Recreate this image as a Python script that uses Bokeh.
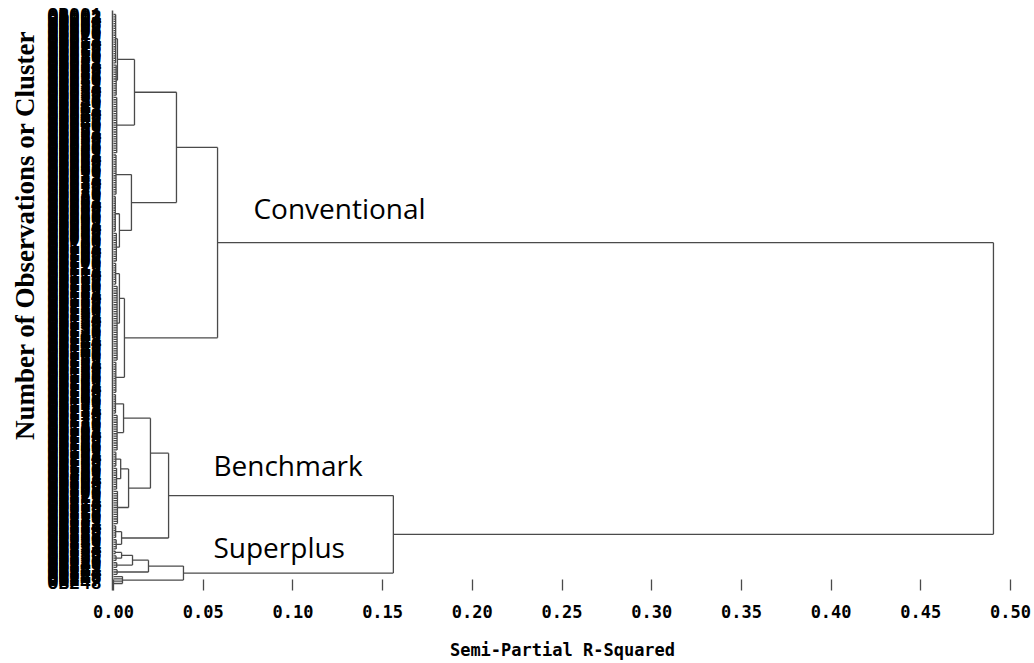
from bokeh.plotting import figure
from bokeh.models import Range1d, FixedTicker, Title, Label, ColumnDataSource
from bokeh.embed import file_html
from bokeh.resources import INLINE

# ---------------- data ----------------
# leaf groups (runs of observations that fuse at very small R-squared)
group_names = ["A1a", "A1b", "A2", "B1", "B2a", "B2b", "C1a", "C1b", "C2",
               "BA1a", "BA1b", "BA2a1", "BA2a2", "BA2b", "BB1", "BB2",
               "S1a", "S1b", "S2b", "S3b", "S4b"]
group_sizes = [22, 14, 25, 18, 16, 13, 10, 33, 14,
               9, 16, 7, 10, 15, 6, 5,
               2, 3, 3, 3, 4]
group_heights = [0.0012, 0.0015, 0.0018, 0.0014, 0.0010, 0.0016, 0.0012, 0.0020, 0.0013,
                 0.0011, 0.0020, 0.0013, 0.0017, 0.0022, 0.0012, 0.0015,
                 0.0010, 0.0014, 0.0018, 0.0020, 0.0050]

# cluster fusions: name, left child, right child, semi-partial R-squared
merge_names = ["A1", "A", "B2", "B", "AB", "C1", "C", "Conventional",
               "BA1", "BA2a", "BA2", "BA", "BB", "Benchmark",
               "S1", "S2", "S3", "Superplus", "BS", "Root"]
merge_left = ["A1a", "A1", "B2a", "B1", "A", "C1a", "C1", "AB",
              "BA1a", "BA2a1", "BA2a", "BA1", "BB1", "BA",
              "S1a", "S1", "S2", "S3", "Benchmark", "Conventional"]
merge_right = ["A1b", "A2", "B2b", "B2", "B", "C1b", "C2", "C",
               "BA1b", "BA2a2", "BA2b", "BA2", "BB2", "BB",
               "S1b", "S2b", "S3b", "S4b", "Superplus", "BS"]
merge_heights = [0.0022, 0.0117, 0.0033, 0.0100, 0.0351, 0.0033, 0.0061, 0.0580,
                 0.0056, 0.0040, 0.0084, 0.0206, 0.0045, 0.0307,
                 0.0045, 0.0106, 0.0195, 0.0390, 0.1560, 0.4905]

x_ticks = [0.00, 0.05, 0.10, 0.15, 0.20, 0.25, 0.30, 0.35, 0.40, 0.45, 0.50]
x_tick_labels = ["0.00", "0.05", "0.10", "0.15", "0.20", "0.25",
                 "0.30", "0.35", "0.40", "0.45", "0.50"]

n_leaves = sum(group_sizes)
leaf_labels = ["OB%03d" % (i + 1) for i in range(n_leaves)]

cluster_names = ["Conventional", "Benchmark", "Superplus"]

# ---------------- build dendrogram segments ----------------
x0, y0, x1, y1 = [], [], [], []
pos, ht = {}, {}
idx = 0
for name, size, h in zip(group_names, group_sizes, group_heights):
    first, last = idx, idx + size - 1
    for k in range(first, last + 1):
        x0.append(0.0); y0.append(k); x1.append(h); y1.append(k)
    if size > 1:
        x0.append(h); y0.append(first); x1.append(h); y1.append(last)
    pos[name] = (first + last) / 2.0
    ht[name] = h
    idx += size

for name, l, r, h in zip(merge_names, merge_left, merge_right, merge_heights):
    yl, yr = pos[l], pos[r]
    x0.append(h); y0.append(yl); x1.append(h); y1.append(yr)
    x0.append(ht[l]); y0.append(yl); x1.append(h); y1.append(yl)
    x0.append(ht[r]); y0.append(yr); x1.append(h); y1.append(yr)
    pos[name] = (yl + yr) / 2.0
    ht[name] = h

src = ColumnDataSource(dict(x0=x0, y0=y0, x1=x1, y1=y1))

# ---------------- figure ----------------
spacing = (583 - 14) / (n_leaves - 1)
p = figure(width=1034, height=663, output_backend="svg", toolbar_location=None,
           x_range=Range1d(-1 / 1794, 0.5 + 2 / 1794),
           y_range=Range1d(n_leaves - 1 + 7 / spacing, -4 / spacing),
           min_border_left=112, min_border_right=22, min_border_top=10,
           min_border_bottom=73)
p.outline_line_color = None
p.background_fill_color = "white"
p.border_fill_color = "white"
p.xgrid.visible = False
p.ygrid.visible = False

line_col = "#4a4a4a"
p.segment("x0", "y0", "x1", "y1", source=src, line_color=line_col, line_width=1.3)

# x axis
xa = p.xaxis[0]
xa.ticker = FixedTicker(ticks=x_ticks)
xa.major_label_overrides = {t: s for t, s in zip(x_ticks, x_tick_labels)}
xa.axis_line_color = None
xa.major_tick_in = 11
xa.major_tick_out = 0
xa.minor_tick_line_color = None
xa.major_tick_line_color = line_col
xa.major_tick_line_width = 1.3
xa.major_label_text_font = "DejaVu Sans Mono"
xa.major_label_text_font_style = "bold"
xa.major_label_text_font_size = "17px"
xa.major_label_text_color = "black"
xa.major_label_standoff = 14
xa.axis_label = "Semi-Partial R-Squared"
xa.axis_label_text_font = "DejaVu Sans Mono"
xa.axis_label_text_font_style = "bold"
xa.axis_label_text_font_size = "17px"
xa.axis_label_text_color = "black"
xa.axis_label_standoff = 19

# y axis: leaf labels (densely overlapping)
ya = p.yaxis[0]
ya.ticker = FixedTicker(ticks=list(range(n_leaves)))
ya.major_label_overrides = {i: s for i, s in enumerate(leaf_labels)}
ya.axis_line_color = line_col
ya.axis_line_width = 1.5
ya.major_tick_in = 0
ya.major_tick_out = 0
ya.minor_tick_line_color = None
ya.major_label_text_font = "Liberation Mono"
ya.major_label_text_font_style = "bold"
ya.major_label_text_font_size = "18px"
ya.major_label_text_color = "black"
ya.major_label_standoff = 11

p.add_layout(Title(text="Number of Observations or Cluster", align="right",
                   offset=20, text_font="Liberation Serif", text_font_style="bold",
                   text_font_size="27px", text_color="black"), "left")

# cluster annotations
label_x = {"Conventional": 0.078, "Benchmark": 0.0557, "Superplus": 0.0557}
label_up = {"Conventional": 35, "Benchmark": 31, "Superplus": 26}
for nm in cluster_names:
    p.add_layout(Label(x=label_x[nm], y=pos[nm], y_offset=label_up[nm], text=nm,
                       text_font="Open Sans", text_font_size="28px",
                       text_color="black", text_baseline="middle", text_align="left"))

open("out.html", "w").write(file_html(p, INLINE))
